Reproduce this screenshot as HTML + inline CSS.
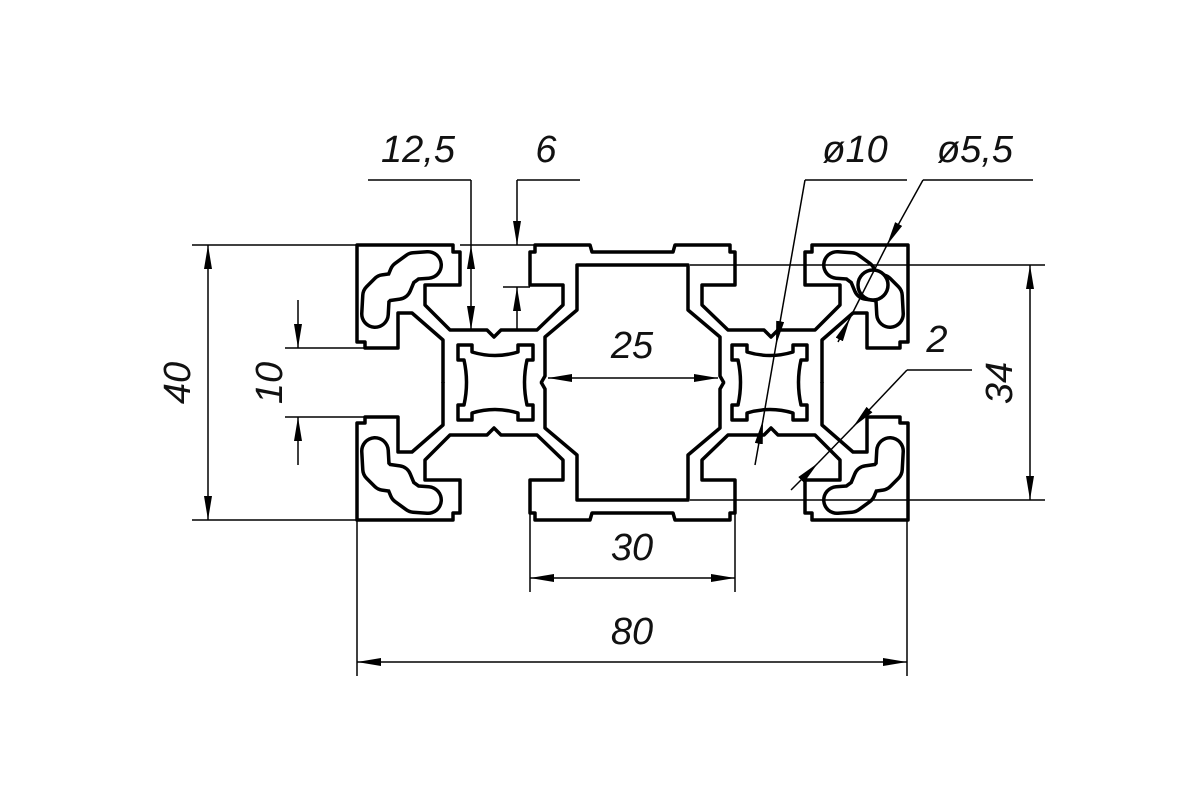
<!DOCTYPE html>
<html><head><meta charset="utf-8"><style>
html,body{margin:0;padding:0;background:#fff;width:1200px;height:800px;overflow:hidden}
text{font-family:"Liberation Sans",sans-serif;font-style:italic;font-size:38px;fill:#111}
</style></head><body>
<svg width="1200" height="800" viewBox="0 0 1200 800" xmlns="http://www.w3.org/2000/svg">
<defs>
<marker id="a" viewBox="0 0 24 8" refX="24" refY="4" markerWidth="24" markerHeight="8" markerUnits="userSpaceOnUse" orient="auto-start-reverse">
<path d="M0,0 L24,4 L0,8 Z" fill="#000"/></marker>
<g id="q" fill="none" stroke="#000" stroke-width="3.5" stroke-linejoin="round">
<path d="M443,383 L443,340 L412,313 L398,313 L398,348 L365,348 L365,342 L357,342 L357,245 L453,245 L453,252 L460,252 L460,285 L425,285 L425,305 L450,330 L487,330 L494,337 L501,330 L537,330 L563,305 L563,285 L530,285 L530,252 L535,252 L535,245 L590,245 L592,252 L632.5,252"/>
<path d="M632.5,265 L577,265 L577,310 L545,337 L545,376 L541,383"/>
</g>
<g id="core" fill="none" stroke="#000" stroke-width="3.5" stroke-linejoin="round">
<path d="M458,345 L472,345 L472,352 Q495,359 518,352 L518,345 L533,345 L533,360 L527,360 Q522,382.5 527,405 L533,405 L533,420 L518,420 L518,413 Q495,406 472,413 L472,420 L458,420 L458,405 L464,405 Q469,382.5 464,360 L458,360 Z"/>
</g>
<g id="pk">
<path d="M375,314 L376,296 L384,288 L398,286 L403,274 L414,266 L428,265" fill="none" stroke="#000" stroke-width="30" stroke-linecap="round" stroke-linejoin="round"/>
<path d="M375,314 L376,296 L384,288 L398,286 L403,274 L414,266 L428,265" fill="none" stroke="#fff" stroke-width="23" stroke-linecap="round" stroke-linejoin="round"/>
</g>
</defs>
<use href="#q"/>
<use href="#q" transform="translate(1265,0) scale(-1,1)"/>
<use href="#q" transform="translate(0,765) scale(1,-1)"/>
<use href="#q" transform="translate(1265,765) scale(-1,-1)"/>
<use href="#core"/>
<use href="#core" transform="translate(1265,0) scale(-1,1)"/>
<use href="#pk"/>
<use href="#pk" transform="translate(1265,0) scale(-1,1)"/>
<use href="#pk" transform="translate(0,765) scale(1,-1)"/>
<use href="#pk" transform="translate(1265,765) scale(-1,-1)"/>
<circle cx="873" cy="285" r="15" fill="#fff" stroke="#000" stroke-width="3.5"/>

<g stroke="#000" stroke-width="1.5" fill="none">
<line x1="192" y1="245" x2="357" y2="245"/><line x1="460" y1="245" x2="535" y2="245"/>
<line x1="192" y1="520" x2="357" y2="520"/>
<line x1="208" y1="245" x2="208" y2="520" marker-start="url(#a)" marker-end="url(#a)"/>
<line x1="285" y1="348" x2="365" y2="348"/><line x1="285" y1="417" x2="365" y2="417"/>
<line x1="298" y1="300" x2="298" y2="348" marker-end="url(#a)"/>
<line x1="298" y1="465" x2="298" y2="417" marker-end="url(#a)"/>
<line x1="368" y1="180" x2="471" y2="180"/>
<line x1="471" y1="180" x2="471" y2="245"/>
<line x1="471" y1="245" x2="471" y2="330" marker-start="url(#a)" marker-end="url(#a)"/>
<line x1="517" y1="180" x2="580" y2="180"/>
<line x1="517" y1="180" x2="517" y2="245" marker-end="url(#a)"/>
<line x1="517" y1="330" x2="517" y2="287" marker-end="url(#a)"/>
<line x1="503" y1="287" x2="530" y2="287"/>
<line x1="548" y1="378" x2="718" y2="378" marker-start="url(#a)" marker-end="url(#a)"/>
<line x1="530" y1="510" x2="530" y2="592"/><line x1="735" y1="510" x2="735" y2="592"/>
<line x1="530" y1="578" x2="735" y2="578" marker-start="url(#a)" marker-end="url(#a)"/>
<line x1="357" y1="520" x2="357" y2="676"/><line x1="907" y1="520" x2="907" y2="676"/>
<line x1="357" y1="662" x2="907" y2="662" marker-start="url(#a)" marker-end="url(#a)"/>
<line x1="690" y1="265" x2="1045" y2="265"/><line x1="690" y1="500" x2="1045" y2="500"/>
<line x1="1030" y1="265" x2="1030" y2="500" marker-start="url(#a)" marker-end="url(#a)"/>
<line x1="805" y1="180" x2="907" y2="180"/>
<line x1="805" y1="180" x2="776" y2="345" marker-end="url(#a)"/>
<line x1="776" y1="345" x2="763" y2="420"/>
<line x1="755" y1="465" x2="763" y2="420" marker-end="url(#a)"/>
<line x1="923" y1="180" x2="1033" y2="180"/>
<line x1="923" y1="180" x2="887" y2="245" marker-end="url(#a)"/>
<line x1="887" y1="245" x2="850" y2="318"/>
<line x1="838" y1="342" x2="850" y2="318" marker-end="url(#a)"/>
<line x1="907" y1="370" x2="972" y2="370"/>
<line x1="907" y1="370" x2="853" y2="427" marker-end="url(#a)"/>
<line x1="853" y1="427" x2="818" y2="463"/>
<line x1="791" y1="490" x2="818" y2="463" marker-end="url(#a)"/>
</g>

<text x="418" y="162" text-anchor="middle">12,5</text>
<text x="546" y="162" text-anchor="middle">6</text>
<text x="855" y="162" text-anchor="middle">ø10</text>
<text x="975" y="162" text-anchor="middle">ø5,5</text>
<text x="632" y="358" text-anchor="middle">25</text>
<text x="632" y="560" text-anchor="middle">30</text>
<text x="632" y="644" text-anchor="middle">80</text>
<text x="937" y="352" text-anchor="middle">2</text>
<text transform="translate(190,383) rotate(-90)" text-anchor="middle">40</text>
<text transform="translate(282,383) rotate(-90)" text-anchor="middle">10</text>
<text transform="translate(1012,383) rotate(-90)" text-anchor="middle">34</text>
</svg>
</body></html>
